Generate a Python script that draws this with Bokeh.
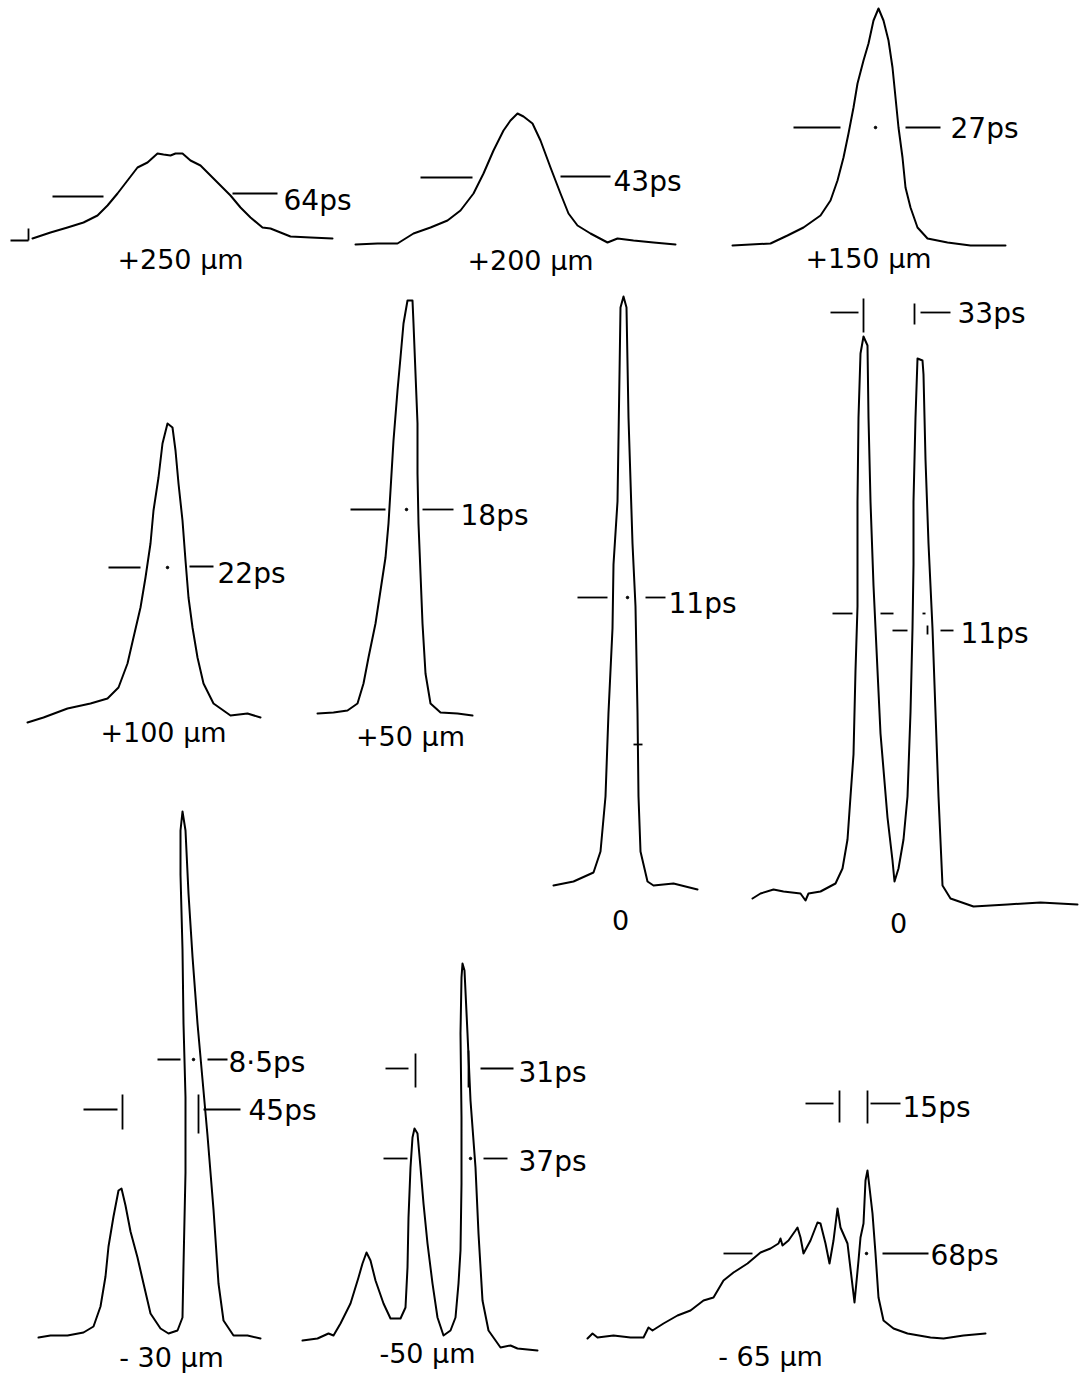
from bokeh.plotting import figure
from bokeh.models import Range1d
from bokeh.core.properties import value
from bokeh.embed import file_html
from bokeh.resources import INLINE

T250_X = [32, 50, 67, 83, 97, 107, 117, 127, 137, 147, 157, 163, 170, 175, 182, 190, 200, 210, 220, 230, 240, 250, 262, 270, 280, 290, 310, 332]
T250_Y = [238, 232, 227, 222, 215, 205, 193, 180, 167, 162, 153, 154, 155, 153, 153, 160, 165, 175, 185, 195, 207, 217, 227, 228, 232, 236, 237, 238]

T200_X = [355, 377, 397, 413, 430, 447, 460, 473, 483, 493, 503, 510, 517, 523, 532, 540, 550, 560, 568, 577, 590, 607, 617, 633, 653, 675]
T200_Y = [244, 243, 243, 233, 227, 220, 210, 193, 173, 150, 130, 120, 113, 116, 123, 140, 167, 193, 213, 225, 233, 242, 238, 240, 242, 244]

T150_X = [732, 770, 787, 803, 820, 830, 837, 843, 848, 853, 857, 863, 868, 873, 878, 883, 888, 892, 895, 898, 902, 905, 910, 917, 927, 947, 970, 1005]
T150_Y = [245, 243, 235, 227, 215, 200, 180, 157, 133, 107, 83, 60, 43, 20, 8, 20, 40, 67, 97, 127, 157, 187, 207, 227, 238, 242, 245, 245]

T100_X = [27, 43, 67, 90, 107, 118, 127, 133, 140, 145, 150, 153, 158, 162, 167, 172, 175, 178, 182, 185, 188, 192, 197, 203, 213, 230, 247, 260]
T100_Y = [722, 717, 708, 703, 698, 687, 663, 637, 607, 577, 543, 510, 477, 443, 423, 427, 450, 483, 520, 560, 597, 627, 657, 683, 703, 715, 713, 717]

T50_X = [317, 333, 347, 357, 363, 368, 375, 380, 385, 388, 390, 393, 397, 400, 403, 407, 412, 413, 415, 417, 417, 418, 420, 422, 425, 430, 440, 457, 472]
T50_Y = [713, 712, 710, 703, 683, 657, 623, 590, 557, 523, 490, 440, 390, 357, 323, 300, 300, 323, 373, 423, 473, 523, 573, 623, 673, 703, 712, 713, 715]

T0A_X = [553, 573, 593, 600, 605, 608, 612, 613, 617, 619, 620, 623, 626, 628, 632, 635, 637, 638, 640, 647, 653, 673, 697]
T0A_Y = [885, 881, 872, 851, 796, 712, 628, 564, 501, 374, 307, 296, 307, 417, 543, 606, 712, 796, 851, 881, 885, 883, 889]

T0B_X = [752, 760, 773, 783, 800, 805, 808, 820, 835, 842, 847, 850, 853, 855, 857, 857, 858, 860, 863, 867, 868, 870, 873, 877, 880, 887, 892, 894,
         898, 903, 907, 910, 912, 913, 913, 915, 917, 922, 923, 925, 928, 932, 935, 938, 942, 950, 973, 1007, 1040, 1077]
T0B_Y = [898, 893, 889, 891, 893, 900, 893, 891, 883, 868, 839, 796, 754, 670, 606, 501, 417, 353, 336, 345, 417, 501, 585, 670, 733, 817, 860, 881,
         868, 839, 796, 712, 628, 564, 501, 417, 358, 360, 374, 459, 543, 628, 712, 796, 885, 898, 906, 904, 902, 904]

TM30_X = [38, 50, 67, 83, 93, 100, 105, 108, 113, 118, 121, 125, 130, 137, 143, 150, 160, 168, 177, 182, 183, 185, 185, 183, 182, 180, 180, 182,
          185, 188, 192, 197, 202, 207, 213, 218, 223, 233, 247, 260]
TM30_Y = [1337, 1335, 1335, 1332, 1326, 1306, 1276, 1246, 1216, 1190, 1188, 1205, 1231, 1257, 1283, 1313, 1328, 1333, 1330, 1317, 1265, 1172, 1097, 1023, 949, 874, 830, 811,
          830, 893, 956, 1023, 1079, 1135, 1209, 1283, 1320, 1335, 1335, 1338]

TM50_X = [302, 317, 328, 333, 340, 350, 358, 362, 366, 370, 375, 383, 390, 400, 405, 407, 408, 410, 412, 414, 417, 420, 423, 427, 432, 437, 443, 450,
          455, 458, 460, 461, 461, 460, 461, 462, 464, 467, 470, 475, 478, 482, 488, 500, 510, 517, 537]
TM50_Y = [1340, 1338, 1333, 1335, 1323, 1303, 1277, 1263, 1252, 1260, 1280, 1303, 1318, 1318, 1307, 1267, 1217, 1167, 1137, 1128, 1133, 1167, 1203, 1243, 1283, 1317, 1335, 1330,
          1317, 1283, 1250, 1183, 1117, 1033, 977, 963, 970, 1033, 1100, 1167, 1233, 1300, 1330, 1347, 1345, 1348, 1350]

TM65_X = [587, 592, 597, 613, 630, 643, 648, 652, 663, 677, 690, 703, 713, 723, 733, 747, 760, 770, 778, 780, 782, 788, 795, 797, 800, 803, 810, 817,
          820, 825, 829, 833, 837, 840, 847, 854, 858, 860, 863, 865, 867, 869, 872, 875, 878, 883, 893, 907, 930, 943, 963, 985]
TM65_Y = [1338, 1333, 1337, 1335, 1337, 1337, 1327, 1330, 1323, 1315, 1310, 1300, 1297, 1280, 1272, 1263, 1252, 1248, 1243, 1238, 1245, 1240, 1230, 1227, 1237, 1253, 1240, 1222,
          1223, 1243, 1263, 1240, 1208, 1227, 1243, 1302, 1260, 1237, 1223, 1180, 1170, 1187, 1213, 1253, 1297, 1320, 1328, 1333, 1337, 1338, 1335, 1333]

TRACES = [(T250_X, T250_Y), (T200_X, T200_Y), (T150_X, T150_Y), (T100_X, T100_Y), (T50_X, T50_Y),
          (T0A_X, T0A_Y), (T0B_X, T0B_Y), (TM30_X, TM30_Y), (TM50_X, TM50_Y), (TM65_X, TM65_Y)]

# ---- half-maximum width markers and ticks ----
MARK_X0 = [52, 232, 10, 28, 420, 560, 793, 905, 108, 189, 350, 422, 577, 645, 633,
           830, 863, 914, 920, 832, 880, 922, 892, 927, 940,
           157, 207, 83, 122, 198, 203,
           385, 415, 468, 480, 383, 483,
           805, 839, 867, 870, 723, 882]
MARK_Y0 = [196, 193, 240, 228, 177, 176, 127, 127, 567, 566, 509, 509, 597, 597, 744,
           312, 298, 303, 312, 613, 613, 613, 630, 625, 630,
           1059, 1059, 1109, 1094, 1094, 1109,
           1068, 1053, 1050, 1068, 1158, 1158,
           1103, 1090, 1090, 1103, 1253, 1253]
MARK_X1 = [103, 277, 28, 28, 472, 610, 840, 940, 140, 213, 385, 453, 607, 665, 642,
           858, 863, 914, 950, 852, 893, 925, 907, 927, 953,
           180, 227, 117, 122, 198, 240,
           408, 415, 468, 513, 407, 507,
           833, 839, 867, 900, 752, 928]
MARK_Y1 = [196, 193, 240, 240, 177, 176, 127, 127, 567, 566, 509, 509, 597, 597, 744,
           312, 332, 324, 312, 613, 613, 613, 630, 634, 630,
           1059, 1059, 1109, 1129, 1133, 1109,
           1068, 1087, 1087, 1068, 1158, 1158,
           1103, 1122, 1123, 1103, 1253, 1253]

DOT_X = [875, 167, 406, 627, 193, 470, 866]
DOT_Y = [127, 567, 509, 597, 1059, 1158, 1253]

# ---- pulse-width labels ----
WIDTH_TEXT = ["64ps", "43ps", "27ps", "22ps", "18ps", "11ps", "33ps", "11ps", "8·5ps", "45ps", "31ps", "37ps", "15ps", "68ps"]
WIDTH_X = [283, 613, 950, 217, 460, 668, 957, 960, 228, 248, 518, 518, 902, 930]
WIDTH_Y = [200, 181, 128, 573, 515, 603, 313, 633, 1062, 1110, 1072, 1161, 1107, 1255]

# ---- focus-position labels ----
POS_TEXT = ["+250 µm", "+200 µm", "+150 µm", "+100 µm", "+50 µm", "0", "0", "- 30 µm", "-50 µm", "- 65 µm"]
POS_X = [180, 530, 868, 163, 410, 620, 898, 171, 427, 770]
POS_Y = [259, 260, 258, 732, 736, 919, 922, 1357, 1353, 1356]

W, H = 1085, 1378
p = figure(width=W, height=H, x_range=Range1d(0, W), y_range=Range1d(H, 0),
           x_axis_type=None, y_axis_type=None, toolbar_location=None,
           output_backend="svg", min_border=0)
p.outline_line_color = None
p.grid.visible = False
p.background_fill_color = "white"
p.border_fill_color = "white"

for xs, ys in TRACES:
    p.line(xs, ys, line_color="black", line_width=2, line_join="round", line_cap="round")

p.segment(x0=MARK_X0, y0=MARK_Y0, x1=MARK_X1, y1=MARK_Y1, line_color="black", line_width=1.8)
p.scatter(DOT_X, DOT_Y, size=2.5, color="black")

font = value("DejaVu Sans")
p.text(x=WIDTH_X, y=WIDTH_Y, text=WIDTH_TEXT, text_font=font, text_font_size="28px",
       text_align="left", text_baseline="middle", text_color="black")
p.text(x=POS_X, y=POS_Y, text=POS_TEXT, text_font=font, text_font_size="27px",
       text_align="center", text_baseline="middle", text_color="black")

open("out.html", "w").write(file_html(p, INLINE))
